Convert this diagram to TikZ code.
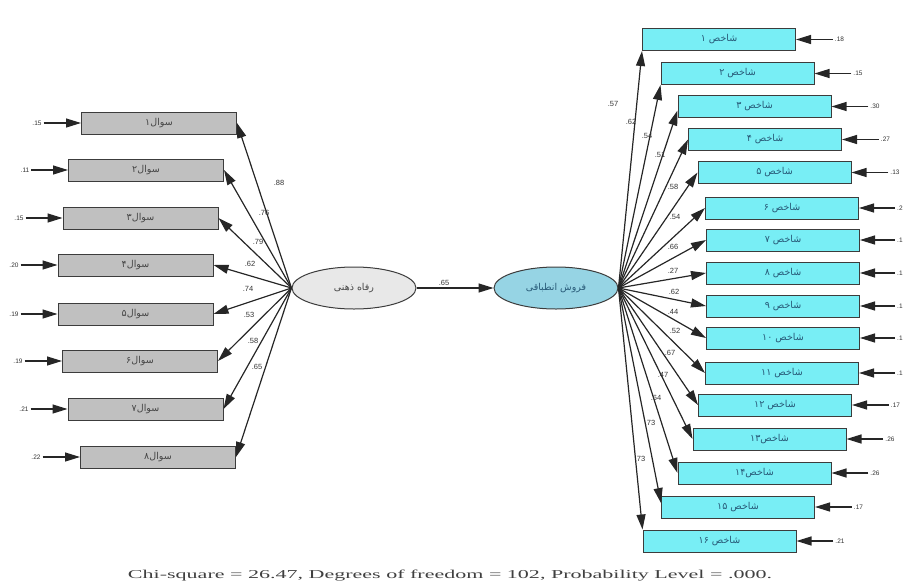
\documentclass[tikz,border=0pt]{standalone}
\usepackage{fontspec}
\usepackage{graphicx}
\usetikzlibrary{arrows.meta,shapes.geometric}
\setmainfont{Liberation Serif}
\newfontfamily\fa[Script=Arabic]{DejaVu Sans}
\newfontfamily\lab{Liberation Sans}
\TeXXeTstate=1

\definecolor{boxgray}{RGB}{192,192,192}
\definecolor{boxcyan}{RGB}{120,238,245}
\definecolor{ellgray}{RGB}{232,232,232}
\definecolor{ellblue}{RGB}{150,212,228}
\definecolor{edgecol}{RGB}{60,60,60}
\definecolor{qtext}{RGB}{70,70,70}
\definecolor{itext}{RGB}{40,90,120}

\tikzset{
  qbox/.style={draw=edgecol, line width=1pt, fill=boxgray, minimum width=155pt,
    minimum height=22pt, inner sep=0pt, text=qtext, font=\fa\fontsize{9.5}{10}\selectfont},
  ibox/.style={draw=edgecol, line width=1pt, fill=boxcyan, minimum width=153pt,
    minimum height=22pt, inner sep=0pt, text=itext, font=\fa\fontsize{9.5}{10}\selectfont},
  latent/.style={ellipse, draw=edgecol, line width=1pt, minimum width=124pt,
    minimum height=42pt, inner sep=0pt, font=\fa\fontsize{9.5}{10}\selectfont},
  sempath/.style={draw=black!85, line width=1.2pt, -{Triangle[length=15pt,width=9pt]}},
  num/.style={font=\lab\fontsize{6.5}{7}\selectfont, inner sep=2pt, text=black!80},
  coef/.style={font=\lab\fontsize{7.5}{8}\selectfont, inner sep=0pt, text=black!80}
}

\begin{document}
\begin{tikzpicture}[x=1pt,y=-1pt]
\useasboundingbox (0,0) rectangle (906,587);

% latent variables
\node[latent, fill=ellgray, text=qtext] (F1) at (354,288) {\beginR رفاه ذهنی\endR};
\node[latent, fill=ellblue, text=itext] (F2) at (556,288) {\beginR فروش انطباقی\endR};
\draw[sempath] (F1.east) -- (F2.west);
\node[coef] (c0) at (444,283) {.65};

% items of the first factor
\node[qbox] (q1) at (159,123) {\beginR سوال۱\endR};
\node[qbox] (q2) at (146,170) {\beginR سوال۲\endR};
\node[qbox] (q3) at (140.5,218) {\beginR سوال۳\endR};
\node[qbox] (q4) at (135.5,265) {\beginR سوال۴\endR};
\node[qbox] (q5) at (135.5,314) {\beginR سوال۵\endR};
\node[qbox] (q6) at (140,361) {\beginR سوال۶\endR};
\node[qbox] (q7) at (145.5,409) {\beginR سوال۷\endR};
\node[qbox] (q8) at (158,457) {\beginR سوال۸\endR};

% error terms of the first factor
\foreach \i/\y/\xl/\v in {1/123/81/.15, 2/170/69/.11, 3/218/63/.15, 4/265/58/.20,
                          5/314/58/.19, 6/361/62/.19, 7/409/68/.21, 8/457/80/.22} {
  \node[num] (qe\i) at (\xl-44,\y) {\v};
  \draw[sempath] (qe\i) -- (q\i);
}

% loadings of the first factor
\foreach \i in {1,...,8} { \draw[sempath] (F1.west) -- (q\i.east); }
\node[coef] (lq1) at (279,183) {.88};
\node[coef] (lq2) at (264,213) {.76};
\node[coef] (lq3) at (258,242) {.79};
\node[coef] (lq4) at (250,264) {.62};
\node[coef] (lq5) at (248,289) {.74};
\node[coef] (lq6) at (249,315) {.53};
\node[coef] (lq7) at (253,341) {.58};
\node[coef] (lq8) at (257,367) {.65};

% indicators of the second factor
\node[ibox] (r1) at (719,39.5) {\beginR شاخص ۱\endR};
\node[ibox] (r2) at (737.5,73.5) {\beginR شاخص ۲\endR};
\node[ibox] (r3) at (754.5,106.5) {\beginR شاخص ۳\endR};
\node[ibox] (r4) at (765,139.5) {\beginR شاخص ۴\endR};
\node[ibox] (r5) at (774.5,172.5) {\beginR شاخص ۵\endR};
\node[ibox] (r6) at (782,208) {\beginR شاخص ۶\endR};
\node[ibox] (r7) at (783,240) {\beginR شاخص ۷\endR};
\node[ibox] (r8) at (783,273) {\beginR شاخص ۸\endR};
\node[ibox] (r9) at (783,306) {\beginR شاخص ۹\endR};
\node[ibox] (r10) at (783,338) {\beginR شاخص ۱۰\endR};
\node[ibox] (r11) at (782,373) {\beginR شاخص ۱۱\endR};
\node[ibox] (r12) at (775,405) {\beginR شاخص ۱۲\endR};
\node[ibox] (r13) at (769.5,439) {\beginR شاخص۱۳\endR};
\node[ibox] (r14) at (754.5,473) {\beginR شاخص۱۴\endR};
\node[ibox] (r15) at (738,507) {\beginR شاخص ۱۵\endR};
\node[ibox] (r16) at (719.5,541) {\beginR شاخص ۱۶\endR};

% error terms of the second factor
\foreach \i/\y/\xr/\v in {1/39.5/795.5/.18, 2/73.5/814/.15, 3/106.5/831/.30, 4/139.5/841.5/.27,
                          5/172.5/851/.13, 12/405/851.5/.17, 13/439/846/.26, 14/473/831/.26,
                          15/507/814.5/.17, 16/541/796/.21} {
  \node[num] (re\i) at (\xr+44,\y) {\v};
  \draw[sempath] (re\i) -- (r\i);
}
\foreach \i/\y/\v in {6/208/.2, 7/240/.1, 8/273/.1, 9/306/.1, 10/338/.1, 11/373/.1} {
  \node[num, anchor=west] (re\i) at (895,\y) {\v};
  \draw[sempath] (re\i.west) -- (r\i);
}

% loadings of the second factor
\draw[sempath] (F2.east) -- (r1.south west);
\draw[sempath] (F2.east) -- (r2.south west);
\draw[sempath] (F2.east) -- ([yshift=-4pt]r3.west);
\foreach \i in {4,...,14} { \draw[sempath] (F2.east) -- (r\i.west); }
\draw[sempath] (F2.east) -- ([yshift=4pt]r15.west);
\draw[sempath] (F2.east) -- (r16.north west);

\node[coef] (lr1) at (613,104) {.57};
\node[coef] (lr2) at (631,122) {.62};
\node[coef] (lr3) at (647,136) {.54};
\node[coef] (lr4) at (660,155) {.51};
\node[coef] (lr5) at (673,187) {.58};
\node[coef] (lr6) at (675,217) {.54};
\node[coef] (lr7) at (673,247) {.66};
\node[coef] (lr8) at (673,271) {.27};
\node[coef] (lr9) at (674,292) {.62};
\node[coef] (lr10) at (673,312) {.44};
\node[coef] (lr11) at (675,331) {.52};
\node[coef] (lr12) at (670,353) {.67};
\node[coef] (lr13) at (663,375) {.47};
\node[coef] (lr14) at (656,398) {.64};
\node[coef] (lr15) at (650,423) {.73};
\node[coef] (lr16) at (640,459) {.73};

% fit summary
\node[anchor=base, inner sep=0pt, text=black!75] (fit) at (450,578)
  {\resizebox{644pt}{8.5pt}{Chi-square = 26.47, Degrees of freedom = 102, Probability Level = .000.}};
\end{tikzpicture}
\end{document}
